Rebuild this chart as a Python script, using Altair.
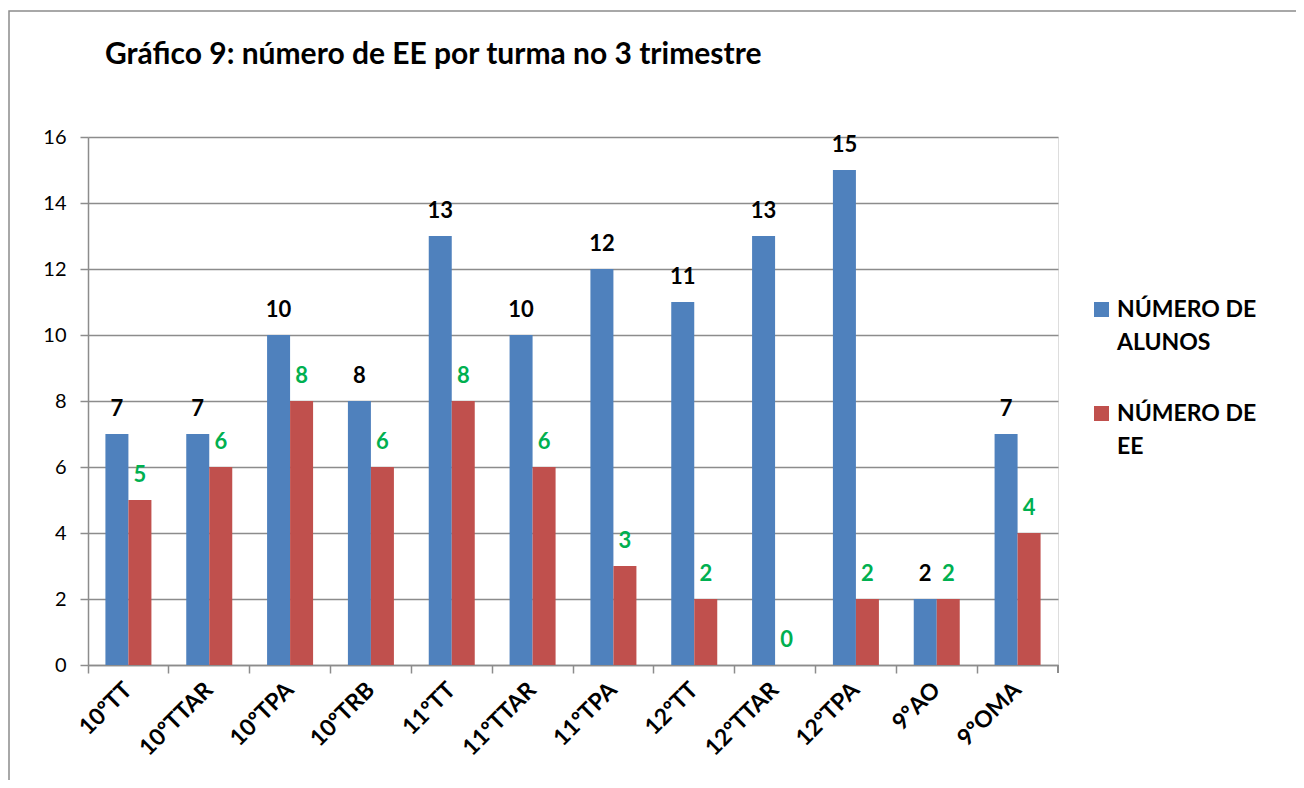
import altair as alt
import pandas as pd

categories = ["10ºTT", "10ºTTAR", "10ºTPA", "10ºTRB", "11ºTT", "11ºTTAR",
              "11ºTPA", "12ºTT", "12ºTTAR", "12ºTPA", "9ºAO", "9ºOMA"]
alunos = [7, 7, 10, 8, 13, 10, 12, 11, 13, 15, 2, 7]
ee = [5, 6, 8, 6, 8, 6, 3, 2, 0, 2, 2, 4]
series = ["NÚMERO DE ALUNOS", "NÚMERO DE EE"]
legend_lines = [["NÚMERO DE", "ALUNOS"], ["NÚMERO DE", "EE"]]
y_ticks = [0, 2, 4, 6, 8, 10, 12, 14, 16]
title_text = "Gráfico 9: número de EE por turma no 3 trimestre"

rows = []
for c, a, e in zip(categories, alunos, ee):
    rows.append({"turma": c, "serie": series[0], "valor": a})
    rows.append({"turma": c, "serie": series[1], "valor": e})
df = pd.DataFrame(rows)
leg_df = pd.DataFrame({"serie": series,
                       "linhas": legend_lines})
title_df = pd.DataFrame({"t": [title_text]})

FONT = "Lato"
W, H = 970, 528
GRAY = "#8c8c8c"

color_scale = alt.Scale(domain=series, range=["#4F81BD", "#C0504D"])

x_enc = alt.X("turma:N", sort=categories,
              scale=alt.Scale(paddingInner=0, paddingOuter=0),
              axis=alt.Axis(title=None, labelAngle=-45, labelAlign="right",
                            labelBaseline="middle", labelFontSize=23,
                            labelFontWeight="bold", labelFont=FONT,
                            labelColor="black", labelPadding=13,
                            tickSize=8, tickColor=GRAY, tickWidth=1.5,
                            bandPosition=0, domainColor=GRAY,
                            domainWidth=1.5, grid=False))
xoff = alt.XOffset("serie:N", sort=series,
                   scale=alt.Scale(paddingInner=0, paddingOuter=0.757))
y_enc = alt.Y("valor:Q",
              scale=alt.Scale(domain=[0, 16], nice=False),
              axis=alt.Axis(title=None, values=y_ticks, labelFontSize=20,
                            labelFont=FONT, labelColor="black",
                            labelPadding=14, tickSize=8,
                            tickColor=GRAY, tickWidth=1.5,
                            domainColor=GRAY, domainWidth=1.5,
                            gridColor=GRAY, gridWidth=1.5))

bars = alt.Chart(df).mark_bar().encode(
    x=x_enc, xOffset=xoff, y=y_enc,
    color=alt.Color("serie:N", sort=series, scale=color_scale, legend=None),
)

lbl_a = alt.Chart(df).transform_filter(
    alt.datum.serie == series[0]
).mark_text(baseline="alphabetic", dy=-18, fontSize=22, fontWeight="bold",
            font=FONT, color="black").encode(
    x=alt.X("turma:N", sort=categories), xOffset=xoff,
    y="valor:Q", text="valor:Q")

lbl_e = alt.Chart(df).transform_filter(
    alt.datum.serie == series[1]
).mark_text(baseline="alphabetic", dy=-18, fontSize=22, fontWeight="bold",
            font=FONT, color="#00B050").encode(
    x=alt.X("turma:N", sort=categories), xOffset=xoff,
    y="valor:Q", text="valor:Q")

last_tick = alt.Chart(df).mark_rule(color=GRAY, strokeWidth=1.5).encode(
    x=alt.value(W), y=alt.value(H), y2=alt.value(H + 8))

frame = alt.Chart(title_df).mark_rect(fill=None, stroke=GRAY,
                                      strokeWidth=1.5).encode(
    x=alt.value(-79), x2=alt.value(1260),
    y=alt.value(-126), y2=alt.value(720))

title = alt.Chart(title_df).mark_text(
    align="left", baseline="alphabetic", font=FONT, fontSize=30,
    fontWeight="bold", color="black").encode(
    x=alt.value(17), y=alt.value(-73), text="t:N")

leg_layers = []
for i, (s, top, base) in enumerate([(series[0], 165, 180),
                                    (series[1], 269, 284)]):
    sub = leg_df[leg_df.serie == s]
    leg_layers.append(alt.Chart(sub).mark_rect().encode(
        x=alt.value(1006), x2=alt.value(1021),
        y=alt.value(top), y2=alt.value(top + 15),
        color=alt.Color("serie:N", sort=series, scale=color_scale,
                        legend=None)))
    leg_layers.append(alt.Chart(sub).mark_text(
        align="left", baseline="alphabetic", font=FONT, fontSize=23,
        fontWeight="bold", color="black", lineHeight=33).encode(
        x=alt.value(1029), y=alt.value(base), text="linhas"))

chart = alt.layer(frame, title, bars, lbl_a, lbl_e, last_tick,
                  *leg_layers).properties(
    width=W, height=H,
    autosize=alt.AutoSizeParams(type="none"),
    padding={"left": 80, "top": 129, "right": 238, "bottom": 115},
).configure_view(stroke=None).configure(background="white")

chart.save("out.html", embed_options={"renderer": "svg", "actions": False})
